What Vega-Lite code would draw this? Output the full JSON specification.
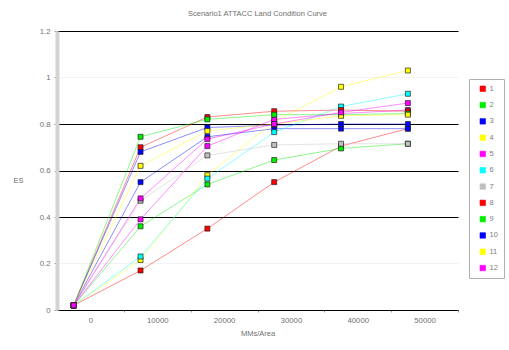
{
  "$schema": "https://vega.github.io/schema/vega-lite/v6.json",
  "width": 401,
  "height": 279,
  "autosize": "none",
  "padding": {"left": 57, "top": 31, "right": 51, "bottom": 40},
  "background": "white",
  "config": {
    "font": "Liberation Sans",
    "view": {"stroke": null},
    "axis": {"labelFont": "Liberation Sans", "titleFont": "Liberation Sans"}
  },
  "title": {
    "text": "Scenario1 ATTACC Land Condition Curve",
    "fontSize": 7.5,
    "fontWeight": "normal",
    "color": "#707070",
    "offset": 10,
    "anchor": "middle"
  },
  "data": {
    "values": [
      {"x": -2500, "y": 0.02, "s": "1"}, {"x": 7500, "y": 0.17, "s": "1"}, {"x": 17500, "y": 0.35, "s": "1"}, {"x": 27500, "y": 0.55, "s": "1"}, {"x": 37500, "y": 0.705, "s": "1"}, {"x": 47500, "y": 0.78, "s": "1"},
      {"x": -2500, "y": 0.02, "s": "2"}, {"x": 7500, "y": 0.36, "s": "2"}, {"x": 17500, "y": 0.54, "s": "2"}, {"x": 27500, "y": 0.645, "s": "2"}, {"x": 37500, "y": 0.695, "s": "2"}, {"x": 47500, "y": 0.715, "s": "2"},
      {"x": -2500, "y": 0.02, "s": "3"}, {"x": 7500, "y": 0.55, "s": "3"}, {"x": 17500, "y": 0.745, "s": "3"}, {"x": 27500, "y": 0.78, "s": "3"}, {"x": 37500, "y": 0.78, "s": "3"}, {"x": 47500, "y": 0.78, "s": "3"},
      {"x": -2500, "y": 0.02, "s": "4"}, {"x": 7500, "y": 0.215, "s": "4"}, {"x": 17500, "y": 0.58, "s": "4"}, {"x": 27500, "y": 0.81, "s": "4"}, {"x": 37500, "y": 0.96, "s": "4"}, {"x": 47500, "y": 1.03, "s": "4"},
      {"x": -2500, "y": 0.02, "s": "5"}, {"x": 7500, "y": 0.39, "s": "5"}, {"x": 17500, "y": 0.705, "s": "5"}, {"x": 27500, "y": 0.82, "s": "5"}, {"x": 37500, "y": 0.845, "s": "5"}, {"x": 47500, "y": 0.86, "s": "5"},
      {"x": -2500, "y": 0.02, "s": "6"}, {"x": 7500, "y": 0.23, "s": "6"}, {"x": 17500, "y": 0.565, "s": "6"}, {"x": 27500, "y": 0.765, "s": "6"}, {"x": 37500, "y": 0.875, "s": "6"}, {"x": 47500, "y": 0.93, "s": "6"},
      {"x": -2500, "y": 0.02, "s": "7"}, {"x": 7500, "y": 0.47, "s": "7"}, {"x": 17500, "y": 0.665, "s": "7"}, {"x": 27500, "y": 0.71, "s": "7"}, {"x": 37500, "y": 0.715, "s": "7"}, {"x": 47500, "y": 0.715, "s": "7"},
      {"x": -2500, "y": 0.02, "s": "8"}, {"x": 7500, "y": 0.70, "s": "8"}, {"x": 17500, "y": 0.83, "s": "8"}, {"x": 27500, "y": 0.855, "s": "8"}, {"x": 37500, "y": 0.86, "s": "8"}, {"x": 47500, "y": 0.855, "s": "8"},
      {"x": -2500, "y": 0.02, "s": "9"}, {"x": 7500, "y": 0.745, "s": "9"}, {"x": 17500, "y": 0.82, "s": "9"}, {"x": 27500, "y": 0.84, "s": "9"}, {"x": 37500, "y": 0.84, "s": "9"}, {"x": 47500, "y": 0.845, "s": "9"},
      {"x": -2500, "y": 0.02, "s": "10"}, {"x": 7500, "y": 0.68, "s": "10"}, {"x": 17500, "y": 0.785, "s": "10"}, {"x": 27500, "y": 0.795, "s": "10"}, {"x": 37500, "y": 0.80, "s": "10"}, {"x": 47500, "y": 0.80, "s": "10"},
      {"x": -2500, "y": 0.02, "s": "11"}, {"x": 7500, "y": 0.62, "s": "11"}, {"x": 17500, "y": 0.77, "s": "11"}, {"x": 27500, "y": 0.80, "s": "11"}, {"x": 37500, "y": 0.835, "s": "11"}, {"x": 47500, "y": 0.84, "s": "11"},
      {"x": -2500, "y": 0.02, "s": "12"}, {"x": 7500, "y": 0.48, "s": "12"}, {"x": 17500, "y": 0.735, "s": "12"}, {"x": 27500, "y": 0.80, "s": "12"}, {"x": 37500, "y": 0.85, "s": "12"}, {"x": 47500, "y": 0.89, "s": "12"}
    ]
  },
  "encoding": {
    "x": {
      "field": "x",
      "type": "quantitative",
      "scale": {"domain": [-5000, 55000], "nice": false, "zero": false},
      "axis": {
        "title": "MMs/Area",
        "titleFontSize": 7.5,
        "titleFontWeight": "normal",
        "titleColor": "#707070",
        "titlePadding": 6,
        "values": [5000, 15000, 25000, 35000, 45000, 55000],
        "labelExpr": "format(datum.value - 5000, 'd')",
        "labelOffset": -33.4,
        "labelFontSize": 7.8,
        "labelColor": "#707070",
        "labelPadding": 4,
        "grid": false,
        "domainColor": "black",
        "domainWidth": 1,
        "tickColor": "#999999",
        "tickSize": 2,
        "labelFlush": false,
        "labelOverlap": false
      }
    },
    "y": {
      "field": "y",
      "type": "quantitative",
      "scale": {"domain": [0, 1.2], "nice": false},
      "axis": {
        "title": "ES",
        "titleAngle": 0,
        "titleX": -44,
        "titleY": 149,
        "titleAlign": "left",
        "titleBaseline": "middle",
        "titleFontSize": 7.5,
        "titleFontWeight": "normal",
        "titleColor": "#707070",
        "values": [0, 0.2, 0.4, 0.6, 0.8, 1.0, 1.2],
        "format": "~g",
        "labelFontSize": 7.8,
        "labelColor": "#707070",
        "labelPadding": 4,
        "tickSize": 3,
        "tickColor": "#999999",
        "domainColor": "#d4d4d4",
        "domainWidth": 4,
        "grid": true,
        "gridColor": {"condition": {"test": "datum.value == 1 || datum.value == 0.2 || datum.value == 0", "value": "#f2f2f2"}, "value": "#000000"},
        "gridWidth": 1,
        "gridOpacity": 1
      }
    },
    "color": {
      "field": "s",
      "type": "nominal",
      "scale": {
        "domain": ["1", "2", "3", "4", "5", "6", "7", "8", "9", "10", "11", "12"],
        "range": ["#ff0000", "#00ee00", "#0000ff", "#ffff00", "#ff00ff", "#00ffff", "#c0c0c0", "#ff0000", "#00ee00", "#0000ff", "#ffff00", "#ff00ff"]
      },
      "legend": {
        "title": null,
        "orient": "none",
        "legendX": 412,
        "legendY": 48,
        "strokeColor": "#b0b0b0",
        "fillColor": "white",
        "padding": 6,
        "symbolType": "square",
        "symbolSize": 30,
        "symbolOpacity": 1,
        "symbolStrokeColor": "#000000",
        "symbolStrokeWidth": 0.6,
        "labelFontSize": 7.5,
        "labelColor": "#808080",
        "rowPadding": 7.3,
        "labelOffset": 3,
        "symbolOffset": 4,
        "direction": "vertical"
      }
    }
  },
  "layer": [
    {
      "mark": {"type": "line", "strokeWidth": 1, "opacity": 0.45}
    },
    {
      "mark": {"type": "point", "shape": "square", "filled": true, "size": 25, "opacity": 1, "stroke": "#222222", "strokeWidth": 0.7}
    }
  ]
}
